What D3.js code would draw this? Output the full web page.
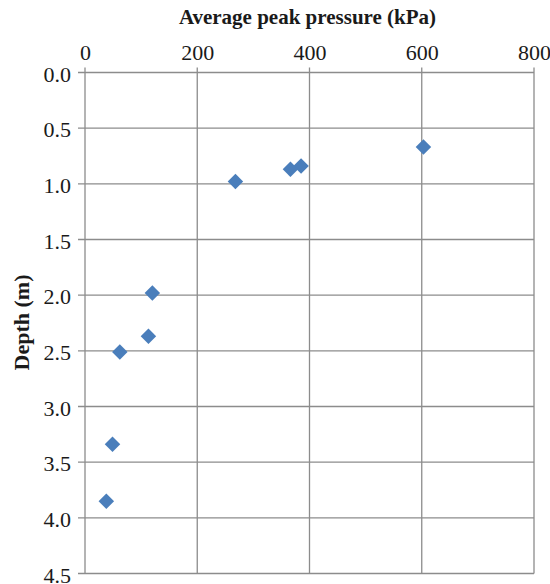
<!DOCTYPE html>
<html>
<head>
<meta charset="utf-8">
<script src="https://cdn.jsdelivr.net/npm/d3@7"></script>
<style>
  html, body { margin: 0; padding: 0; background: #fff; }
  svg { display: block; }
  text { font-family: "Liberation Serif", "Times New Roman", serif; fill: #1a1a1a; }
</style>
</head>
<body>
<svg id="chart" width="550" height="584"></svg>
<script>
// Average peak pressure measured at each depth
const pressure = [603, 385, 366, 268, 120, 113, 62, 49, 38];
const depth    = [0.67, 0.84, 0.87, 0.98, 1.98, 2.37, 2.51, 3.34, 3.85];

const xTicks = [0, 200, 400, 600, 800];
const yTicks = [0.0, 0.5, 1.0, 1.5, 2.0, 2.5, 3.0, 3.5, 4.0, 4.5];

const xTitle = "Average peak pressure (kPa)";
const yTitle = "Depth (m)";

const svg = d3.select("#chart");
const plotLeft = 85, plotRight = 534, plotTop = 72.5, plotBottom = 573.5;

const x = d3.scaleLinear().domain([0, 800]).range([plotLeft, plotRight]);
const y = d3.scaleLinear().domain([0, 4.5]).range([plotTop, plotBottom]);

const gridColor = "#8c8c8c";
const serif = '"Liberation Serif", "Times New Roman", serif';

// vertical gridlines, with short tick marks above the top edge
svg.append("g").selectAll("line").data(xTicks).join("line")
  .attr("x1", d => x(d)).attr("x2", d => x(d))
  .attr("y1", plotTop - 5).attr("y2", plotBottom)
  .attr("stroke", gridColor).attr("stroke-width", 1.3);

// horizontal gridlines with left tick marks
svg.append("g").selectAll("line").data(yTicks).join("line")
  .attr("x1", plotLeft - 7).attr("x2", plotRight)
  .attr("y1", d => y(d)).attr("y2", d => y(d))
  .attr("stroke", gridColor).attr("stroke-width", 1.3);

// top axis labels
const xAxis = d3.axisTop(x).tickValues(xTicks).tickSize(0).tickPadding(0)
  .tickFormat(d3.format("d"));
const gx = svg.append("g").attr("transform", `translate(0,60)`).call(xAxis);
gx.select(".domain").remove();
gx.attr("font-family", serif).attr("font-size", 22);
gx.selectAll("text").attr("fill", "#1a1a1a");

// left axis labels
const yAxis = d3.axisLeft(y).tickValues(yTicks).tickSize(0).tickPadding(0)
  .tickFormat(d3.format(".1f"));
const gy = svg.append("g").attr("transform", `translate(71,0)`).call(yAxis);
gy.select(".domain").remove();
gy.attr("font-family", serif).attr("font-size", 22);
gy.selectAll("text").attr("fill", "#1a1a1a").attr("dy", "0.4em");

// axis titles
svg.append("text")
  .attr("x", (plotLeft + plotRight) / 2 - 2).attr("y", 24)
  .attr("text-anchor", "middle")
  .attr("font-size", 21).attr("font-weight", "bold")
  .text(xTitle);

svg.append("text")
  .attr("transform", `translate(29,322.5) rotate(-90)`)
  .attr("text-anchor", "middle")
  .attr("font-size", 22).attr("font-weight", "bold")
  .text(yTitle);

// diamond markers
const diamond = d3.symbol().type(d3.symbolSquare).size(120);
svg.append("g").selectAll("path").data(pressure.map((p, i) => [p, depth[i]])).join("path")
  .attr("d", diamond)
  .attr("transform", d => `translate(${x(d[0])},${y(d[1])}) rotate(45)`)
  .attr("fill", "#4a7ebb");
</script>
</body>
</html>
